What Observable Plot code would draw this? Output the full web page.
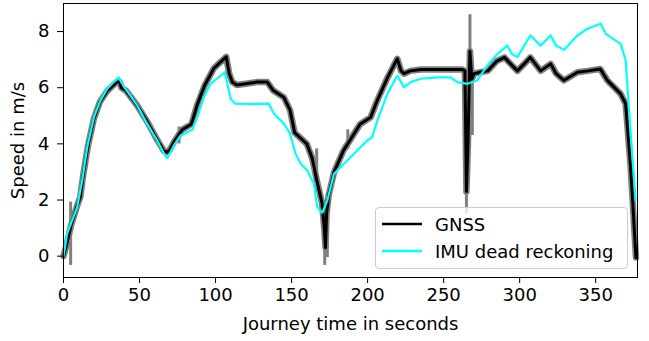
<!DOCTYPE html>
<html>
<head>
<meta charset="utf-8">
<script src="https://cdn.jsdelivr.net/npm/d3@7"></script>
<script src="https://cdn.jsdelivr.net/npm/@observablehq/plot@0.6"></script>
<style>
  body { margin: 0; background: #fff; font-family: "DejaVu Sans", sans-serif; }
  #wrap { position: relative; width: 649px; height: 341px; }
  #legend { position: absolute; left: 375px; top: 207px; width: 251px; height: 60px;
    border: 1px solid #cccccc; border-radius: 4px; background: rgba(255,255,255,0.8);
    font-family: "DejaVu Sans", sans-serif; font-size: 18px; color: #000; }
  .row { position: absolute; left: 0; height: 20px; display: flex; align-items: center; }
  .row svg { margin-left: 6px; }
  .row span { margin-left: 13px; }
</style>
</head>
<body>
<div id="wrap"></div>
<script>
// GNSS speed (black line), time in s, speed in m/s
const gnssT = [0,2,5,9,11,13,16,20,24,29,33,35,37,38,41,48,55,61,66,68,70,73,78,84,85,88,93,99,105,107,109,111,114,121,127,134,138,145,149,152,156,160,163.5,167,170,171.5,172.3,173,174.5,178,184,191,195,202,206,213,219.5,222,224,228,235,245,255,262,264,265,266,267.3,268.5,270,274,279,285,290,294,298.5,303,307,313.8,320.4,324,329,338,345,353,357.7,366.4,369.7,373,376.5];
const gnssV = [0,0.4,1.1,1.8,2.1,2.9,3.9,4.9,5.5,5.9,6.1,6.2,6.2,6.0,5.9,5.4,4.8,4.2,3.75,3.7,3.8,4.1,4.5,4.7,4.85,5.4,6.1,6.7,7.0,7.1,6.5,6.2,6.1,6.15,6.2,6.2,5.9,5.65,5.2,4.4,4.2,4.0,3.5,2.6,1.9,1.0,0.3,1.5,2.2,3.0,3.75,4.35,4.7,4.95,5.5,6.35,7.03,6.6,6.5,6.6,6.65,6.65,6.65,6.65,6.6,2.3,4.0,7.3,6.3,6.5,6.55,6.6,6.95,7.08,6.85,6.6,6.85,7.08,6.6,6.85,6.5,6.26,6.55,6.6,6.67,6.26,5.78,5.43,3.17,-0.05];
// raw GNSS outliers (grey spikes): time, low, high
const spikeT  = [4.7,76,166.5,171.8,173.5,187,265,267.3,268.9];
const spikeLo = [-0.33,4.0,2.6,-0.33,-0.05,3.8,1.5,6.5,4.3];
const spikeHi = [1.92,4.6,3.82,1.5,2.2,4.5,6.6,8.6,6.4];
// IMU dead reckoning speed (cyan line)
const imuT = [0,2.4,9,12.3,15.6,20,24.3,28.7,33,36.4,38,40.8,48.5,55,61.6,67.1,68.5,72.6,77,83.6,84.7,88,92.3,96.7,101,106,110,113,120,135,138.4,145,149,152.6,156,160.3,164.7,166.9,170.2,173.5,177.8,188.8,199.8,203,206.4,213,219.5,223.9,228.3,235,245.8,254.6,259,265.6,272,278.7,285.3,291.9,295,298.5,307,313.8,320.4,324,329.2,337.9,344.5,353.3,356.6,366.4,369.7,373,376.3];
const imuV = [0,0.8,1.75,2.7,3.88,4.95,5.55,5.96,6.2,6.37,6.2,5.96,5.37,4.72,4.12,3.55,3.5,3.94,4.3,4.48,4.5,4.95,5.66,6.14,6.32,6.55,5.6,5.43,5.42,5.43,5.07,4.72,4.36,3.65,3.29,3.05,2.58,1.75,1.55,1.98,2.93,3.53,4.12,4.24,4.83,5.78,6.43,6.02,6.2,6.32,6.37,6.37,6.2,6.14,6.26,6.79,7.2,7.5,7.2,7.09,7.86,7.5,7.86,7.5,7.35,7.86,8.1,8.28,7.92,7.56,6.97,4.36,1.98];
const xTicks = [0,50,100,150,200,250,300,350];
const yTicks = [0,2,4,6,8];
const seriesNames = ["GNSS", "IMU dead reckoning"];
const seriesColors = ["#000000", "#00ffff"];

const gnss = gnssT.map((t, i) => ({t, v: gnssV[i]}));
const imu = imuT.map((t, i) => ({t, v: imuV[i]}));
const spikes = spikeT.map((t, i) => ({t, lo: spikeLo[i], hi: spikeHi[i]}));

const chart = Plot.plot({
  width: 649,
  height: 341,
  marginLeft: 63,
  marginRight: 12,
  marginTop: 3,
  marginBottom: 64,
  style: {fontFamily: "DejaVu Sans, sans-serif", fontSize: "18px", color: "#000", background: "#fff"},
  x: {domain: [0, 377.5]},
  y: {domain: [-0.76, 9.0]},
  marks: [
    Plot.ruleX(spikes, {x: "t", y1: "lo", y2: "hi", stroke: "#808080", strokeWidth: 3}),
    Plot.line(gnss, {x: "t", y: "v", stroke: "#808080", strokeWidth: 6.5, strokeLinejoin: "round"}),
    Plot.line(gnss, {x: "t", y: "v", stroke: seriesColors[0], strokeWidth: 3}),
    Plot.line(imu, {x: "t", y: "v", stroke: seriesColors[1], strokeWidth: 2.2}),
    Plot.frame({stroke: "#000", strokeWidth: 1}),
    Plot.axisX({ticks: xTicks, tickSize: 6, tickPadding: 5, fontSize: 18, label: "Journey time in seconds", labelAnchor: "center", labelArrow: "none", labelOffset: 52}),
    Plot.axisY({ticks: yTicks, tickSize: 6, tickPadding: 8, fontSize: 18, label: "Speed in m/s", labelAnchor: "center", labelArrow: "none", labelOffset: 52})
  ]
});
const wrap = document.getElementById("wrap");
wrap.appendChild(chart);

const legend = document.createElement("div");
legend.id = "legend";
seriesNames.forEach((name, i) => {
  const row = document.createElement("div");
  row.className = "row";
  row.style.top = (6 + i * 27) + "px";
  row.innerHTML = `<svg width="40" height="6"><line x1="0" x2="40" y1="3" y2="3" stroke="${seriesColors[i]}" stroke-width="2.5"/></svg><span>${name}</span>`;
  legend.appendChild(row);
});
wrap.appendChild(legend);
</script>
</body>
</html>
